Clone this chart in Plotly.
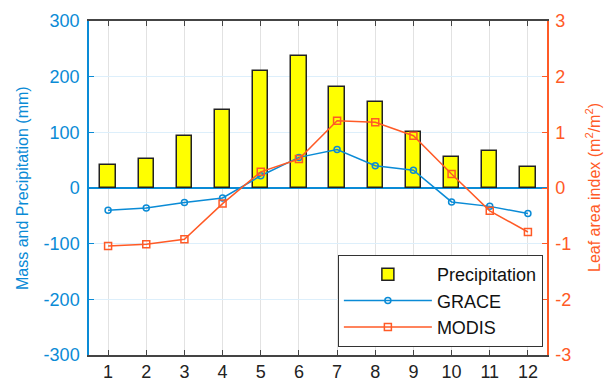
import plotly.graph_objects as go

months = list(range(1, 13))
month_labels = [str(m) for m in months]
precipitation = [42, 53, 94, 140, 211, 237, 181, 154, 101, 56, 67, 37]
grace = [-40, -36, -26, -18, 22, 55, 69, 40, 32, -25, -33, -46]
modis = [-1.04, -1.01, -0.92, -0.28, 0.29, 0.52, 1.21, 1.18, 0.94, 0.25, -0.41, -0.79]

left_ticks = [-300, -200, -100, 0, 100, 200, 300]
left_tick_labels = ["-300", "-200", "-100", "0", "100", "200", "300"]
right_ticks = [-3, -2, -1, 0, 1, 2, 3]
right_tick_labels = ["-3", "-2", "-1", "0", "1", "2", "3"]

left_title = "Mass and Precipitation (mm)"
right_title = "Leaf area index (m<sup>2</sup>/m<sup>2</sup>)"

BLUE = "#0A8BD6"
ORANGE = "#FF5A26"
FONT = "Liberation Sans, Arial, sans-serif"

fig = go.Figure()
fig.add_trace(go.Bar(
    x=months, y=precipitation, name="Precipitation", width=0.4,
    marker=dict(color="#FFFF00", line=dict(color="#222222", width=1.5)),
))
fig.add_trace(go.Scatter(
    x=months, y=grace, name="GRACE", mode="lines+markers",
    line=dict(color=BLUE, width=1.5),
    marker=dict(symbol="circle-open", size=6, color=BLUE, line=dict(width=1.5)),
))
fig.add_trace(go.Scatter(
    x=months, y=modis, name="MODIS", mode="lines+markers", yaxis="y2",
    line=dict(color=ORANGE, width=1.5),
    marker=dict(symbol="square-open", size=7, color=ORANGE, line=dict(width=1.5)),
))

fig.update_layout(
    width=608, height=382,
    margin=dict(l=89, r=61, t=21, b=27, autoexpand=False),
    paper_bgcolor="white", plot_bgcolor="white",
    font=dict(family=FONT, size=18, color="#222222"),
    showlegend=True,
    legend=dict(
        x=0.991, y=0.024, xanchor="right", yanchor="bottom",
        bgcolor="white", bordercolor="#333333", borderwidth=1,
        font=dict(size=18, color="#111111"), itemwidth=88,
        tracegroupgap=0,
    ),
    xaxis=dict(
        range=[0.5, 12.5], tickvals=months, ticktext=month_labels,
        showgrid=True, gridcolor="#E2E2E2", gridwidth=1,
        showline=True, linecolor="#444444", linewidth=1.5, mirror="ticks",
        ticks="inside", ticklen=5, tickcolor="#444444",
        tickfont=dict(size=18, color="#222222"), zeroline=False,
        automargin=False,
    ),
    yaxis=dict(
        range=[-300, 300], tickvals=left_ticks, ticktext=left_tick_labels,
        tickfont=dict(size=18, color=BLUE),
        showgrid=True, gridcolor="#DDEFFB", gridwidth=1,
        zeroline=True, zerolinecolor=BLUE, zerolinewidth=2,
        showline=True, linecolor=BLUE, linewidth=1.5,
        ticks="inside", ticklen=5, tickcolor=BLUE,
        ticklabelstandoff=4, automargin=False,
    ),
    yaxis2=dict(
        range=[-3, 3], tickvals=right_ticks, ticktext=right_tick_labels,
        overlaying="y", side="right",
        tickfont=dict(size=18, color=ORANGE),
        showgrid=False, zeroline=False,
        showline=True, linecolor=ORANGE, linewidth=1.5,
        ticks="inside", ticklen=5, tickcolor=ORANGE,
        ticklabelstandoff=3, automargin=False,
    ),
    bargap=0,
    annotations=[
        dict(text=left_title, textangle=-90, xref="paper", yref="paper",
             x=(22 - 89) / 458, y=0.5, xanchor="center", yanchor="middle",
             showarrow=False, font=dict(size=16, color=BLUE)),
        dict(text=right_title, textangle=-90, xref="paper", yref="paper",
             x=(593 - 89) / 458, y=0.5, xanchor="center", yanchor="middle",
             showarrow=False, font=dict(size=16, color=ORANGE)),
    ],
)

fig.write_html("out.html", config={"displayModeBar": False},
               post_script="document.body.style.margin='0';")
